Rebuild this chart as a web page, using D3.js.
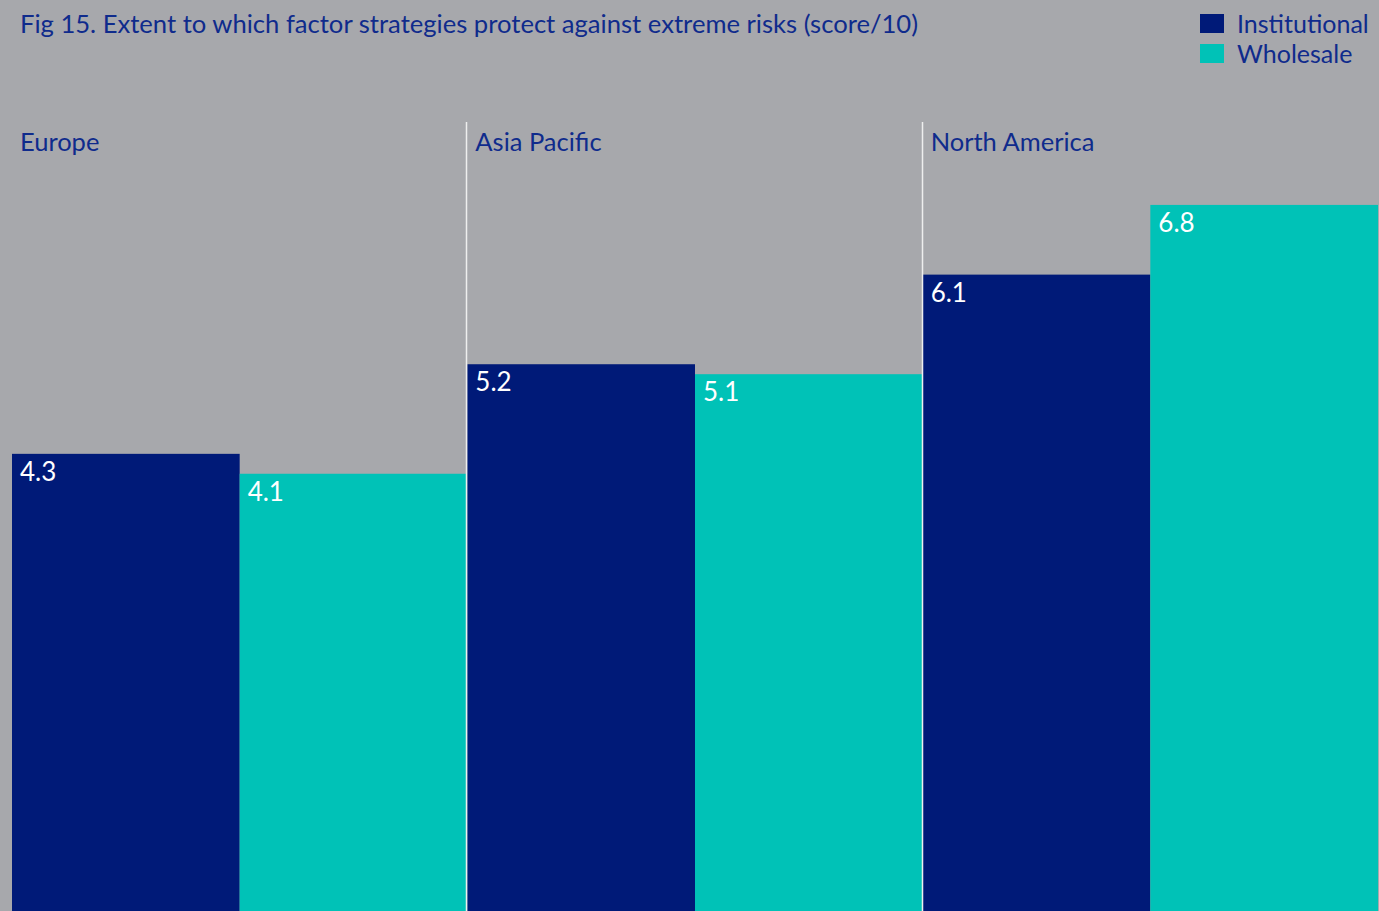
<!DOCTYPE html>
<html>
<head>
<meta charset="utf-8">
<script src="https://cdn.jsdelivr.net/npm/d3@7"></script>
<style>
  html, body { margin: 0; padding: 0; background: #a7a8ac; overflow: hidden; }
  text { font-family: Lato, "Noto Sans", sans-serif; }
</style>
</head>
<body>
<div id="chart"></div>
<script>
// data
var regions = ["Europe", "Asia Pacific", "North America"];
var seriesNames = ["Institutional", "Wholesale"];
var institutional = [4.3, 5.2, 6.1];
var wholesale = [4.1, 5.1, 6.8];
var titleText = "Fig 15. Extent to which factor strategies protect against extreme risks (score/10)";

var colors = { Institutional: "#001a78", Wholesale: "#00c2b7" };
var textColor = "#0f2b8c";

var svgWidth = 1379;
var svgHeight = 911;

var margin = { top: 122, right: 1, bottom: 0, left: 12 };

var svg = d3.select("#chart")
  .append("svg")
  .attr("width", svgWidth)
  .attr("height", svgHeight);

svg.append("rect")
  .attr("width", svgWidth)
  .attr("height", svgHeight)
  .attr("fill", "#a7a8ac");

// build rows for drawing
var rows = [];
regions.forEach(function(r, i) {
  rows.push({ region: r, series: "Institutional", value: institutional[i] });
  rows.push({ region: r, series: "Wholesale", value: wholesale[i] });
});

// scales
var x0 = d3.scaleBand()
  .domain(regions)
  .range([margin.left, svgWidth - margin.right]);

var x1 = d3.scaleBand()
  .domain(seriesNames)
  .range([0, x0.bandwidth()]);

// the figure is cropped: zero sits a little above the bottom edge
var y = d3.scaleLinear()
  .domain([0, 7])
  .range([882, 185]);

// title
svg.append("text")
  .attr("x", 20)
  .attr("y", 33)
  .attr("fill", textColor)
  .attr("font-size", "25.6px")
  .text(titleText);

// legend
var legend = svg.append("g")
  .attr("transform", "translate(1200, 14)");

legend.selectAll("rect")
  .data(seriesNames)
  .enter()
  .append("rect")
  .attr("x", 0)
  .attr("y", (d, i) => i * 30)
  .attr("width", 24)
  .attr("height", 19)
  .attr("fill", d => colors[d]);

legend.selectAll("text")
  .data(seriesNames)
  .enter()
  .append("text")
  .attr("x", 37)
  .attr("y", (d, i) => i * 30 + 19)
  .attr("fill", textColor)
  .attr("font-size", "25px")
  .text(d => d);

// bars
var groups = svg.selectAll(".region")
  .data(regions)
  .enter()
  .append("g")
  .attr("class", "region")
  .attr("transform", d => `translate(${x0(d)}, 0)`);

svg.selectAll(".bar")
  .data(rows)
  .enter()
  .append("rect")
  .attr("class", "bar")
  .attr("x", d => x0(d.region) + x1(d.series))
  .attr("y", d => y(d.value))
  .attr("width", x1.bandwidth())
  .attr("height", d => svgHeight - y(d.value))
  .attr("fill", d => colors[d.series]);

svg.selectAll(".value")
  .data(rows)
  .enter()
  .append("text")
  .attr("class", "value")
  .attr("x", d => x0(d.region) + x1(d.series) + 8)
  .attr("y", d => y(d.value) + 27)
  .attr("fill", "#ffffff")
  .attr("font-size", "26px")
  .text(d => d.value.toFixed(1));

// region labels
groups.append("text")
  .attr("x", 8)
  .attr("y", 151)
  .attr("fill", textColor)
  .attr("font-size", "25.5px")
  .text(d => d);

// separators between regions
svg.selectAll(".sep")
  .data(regions.slice(1))
  .enter()
  .append("line")
  .attr("class", "sep")
  .attr("x1", d => Math.round(x0(d)) - 0.5)
  .attr("x2", d => Math.round(x0(d)) - 0.5)
  .attr("y1", margin.top)
  .attr("y2", svgHeight)
  .attr("stroke", "#eeeeee")
  .attr("stroke-width", 1.5);
</script>
</body>
</html>
